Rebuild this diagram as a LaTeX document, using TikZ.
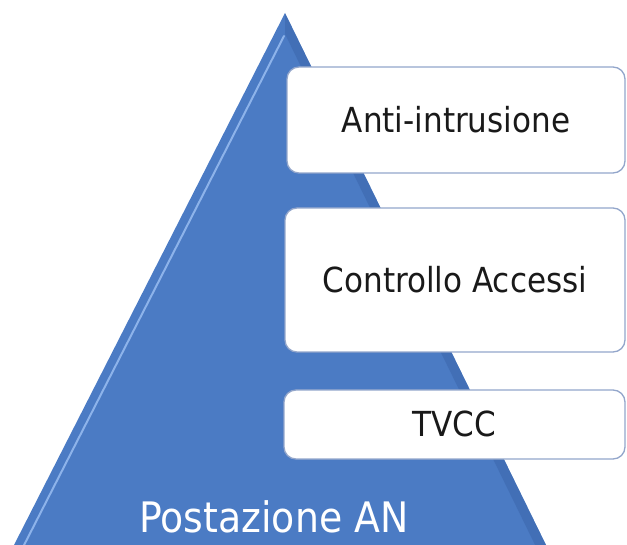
\documentclass[tikz,border=0pt]{standalone}
\usepackage{fontspec}
\IfFontExistsTF{DejaVu Sans Condensed}
  {\setmainfont{DejaVu Sans Condensed}}
  {\setmainfont{DejaVu Sans}[FakeStretch=0.88]}
\definecolor{pyrblue}{HTML}{4B7BC4}
\definecolor{pyrlight}{HTML}{8DB3EA}
\definecolor{pyrdark}{HTML}{3A65AA}
\definecolor{boxline}{HTML}{93A6CB}
\begin{document}
\begin{tikzpicture}[x=1pt,y=-1pt,
  layer/.style={draw=boxline, line width=1.3pt, fill=white, rounded corners=12pt,
    inner sep=0pt, font=\fontsize{34.5}{40}\selectfont, text=black!90,
    text height=25pt, text depth=0pt},
  basetext/.style={text=white, font=\fontsize{42}{50}\selectfont, inner sep=0pt,
    text height=30.5pt, text depth=0pt}]
\useasboundingbox (0,0) rectangle (627,545);
\clip (0,0) rectangle (627,545);
% pyramid body
\fill[pyrblue] (285,13) -- (573,600) -- (-14,600) -- cycle;
% bevel: light ridge along the left face, darker strip along the right edge
\draw[pyrlight, line width=2pt, line cap=round] (284,36) -- (-4,600);
\fill[pyrdark, opacity=0.5] (285,13) -- (573,600) -- (562,600) -- (285,34) -- cycle;
% layer labels
\node[layer, minimum width=338pt, minimum height=106pt] (intr) at (456,120) {Anti-intrusione};
\node[layer, minimum width=340pt, minimum height=144pt] (acc) at (455,280) {Controllo Accessi};
\node[layer, minimum width=341pt, minimum height=69pt] (tvcc) at (454.5,424.5) {TVCC};
\node[basetext] (post) at (274,517.5) {Postazione AN};
\end{tikzpicture}
\end{document}
